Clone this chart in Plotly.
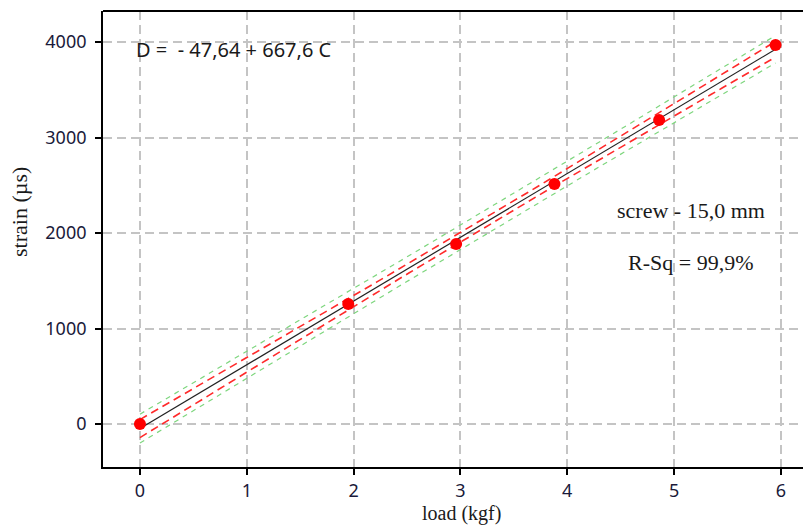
import numpy as np
import plotly.graph_objects as go

# Measured load / strain pairs
load = [0.0, 1.95, 2.96, 3.88, 4.86, 5.95]
strain = [0, 1257, 1885, 2513, 3183, 3969]

# Regression equation D = b0 + b1 * C
b0 = -47.64
b1 = 667.6
t_crit = 2.776  # Student t, 95 %, df = 4

x_ticks = [0, 1, 2, 3, 4, 5, 6]
y_ticks = [0, 1000, 2000, 3000, 4000]

x = np.asarray(load)
y = np.asarray(strain)
n = len(x)
resid = y - (b0 + b1 * x)
s = np.sqrt(np.sum(resid ** 2) / (n - 2))
sxx = np.sum((x - x.mean()) ** 2)

xf = np.linspace(x.min(), x.max(), 60)
yf = b0 + b1 * xf
ci = t_crit * s * np.sqrt(1 / n + (xf - x.mean()) ** 2 / sxx)
pi = t_crit * s * np.sqrt(1 + 1 / n + (xf - x.mean()) ** 2 / sxx)

fig = go.Figure()
for sign in (1, -1):
    fig.add_trace(go.Scatter(x=xf, y=yf + sign * pi, mode="lines",
                             line=dict(color="#7ed67e", width=1.2, dash="5px,5px"),
                             hoverinfo="skip"))
for sign in (1, -1):
    fig.add_trace(go.Scatter(x=xf, y=yf + sign * ci, mode="lines",
                             line=dict(color="#ff2a2a", width=1.6, dash="8px,5px"),
                             hoverinfo="skip"))
fig.add_trace(go.Scatter(x=xf, y=yf, mode="lines",
                         line=dict(color="#222222", width=1.2)))
fig.add_trace(go.Scatter(x=load, y=strain, mode="markers",
                         marker=dict(color="#ff0000", size=12)))

axis_common = dict(
    showline=True, linecolor="#000000", linewidth=1.8,
    ticks="outside", ticklen=6, tickcolor="#000000", tickwidth=1.5,
    showgrid=True, gridcolor="#c4c4c4", griddash="9px,5px", gridwidth=1.5,
    zeroline=False,
    tickfont=dict(family="Noto Sans", size=18, color="#1a1a3a"),
)

serif = dict(family="Liberation Serif", size=22, color="#1a1a1a")

fig.update_layout(
    width=803, height=526,
    margin=dict(l=103, r=0, t=11, b=59),
    paper_bgcolor="white", plot_bgcolor="white",
    showlegend=False,
    xaxis=dict(range=[-0.346, 6.207], tickvals=x_ticks, ticklabelstandoff=0, **axis_common),
    yaxis=dict(range=[-450, 4325], tickvals=y_ticks, ticklabelstandoff=5, **axis_common),
    shapes=[dict(type="line", xref="paper", yref="paper", x0=0, x1=1, y0=1, y1=1,
                 line=dict(color="#000000", width=1.8))],
    annotations=[
        dict(text="D =  - 47,64 + 667,6 C", xref="paper", yref="paper",
             x=(134 - 103) / 700, y=(467 - 50) / 456, xanchor="left", yanchor="middle",
             showarrow=False, font=dict(family="Noto Sans", size=20, color="#1a1a1a")),
        dict(text="screw - 15,0 mm", xref="paper", yref="paper",
             x=(691 - 103) / 700, y=(467 - 210) / 456, xanchor="center", yanchor="middle",
             showarrow=False, font=serif),
        dict(text="R-Sq = 99,9%", xref="paper", yref="paper",
             x=(690 - 103) / 700, y=(467 - 262) / 456, xanchor="center", yanchor="middle",
             showarrow=False, font=serif),
        dict(text="strain (µs)", xref="paper", yref="paper",
             x=-(103 - 19) / 700, y=(467 - 212) / 456, xanchor="center", yanchor="middle",
             textangle=-90, showarrow=False, font=serif),
        dict(text="load (kgf)", xref="paper", yref="paper",
             x=(461 - 103) / 700, y=-(526 - 467) / 456, xanchor="center", yanchor="bottom",
             showarrow=False, borderpad=0,
             font=dict(family="Liberation Serif", size=20, color="#1a1a1a")),
    ],
)

fig.write_html("out.html")
